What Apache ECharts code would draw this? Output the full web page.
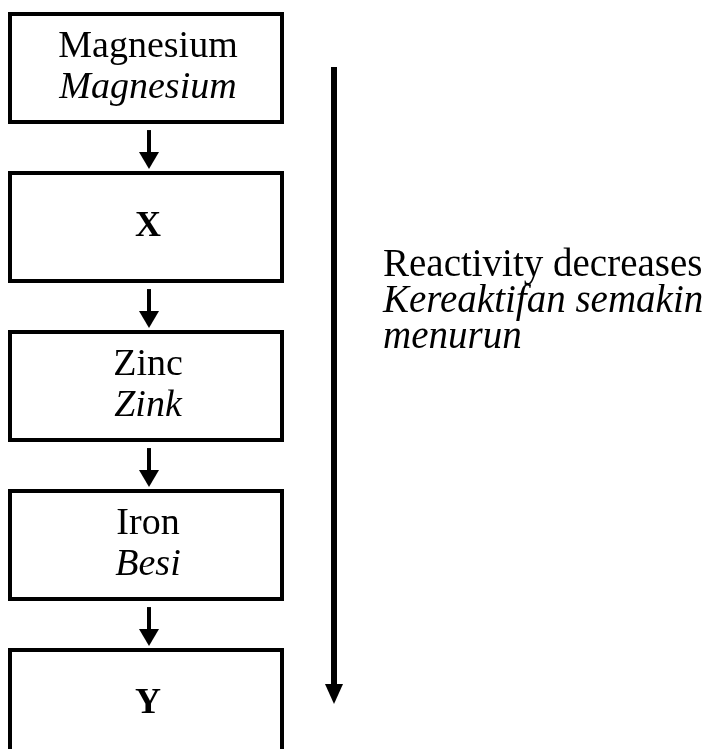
<!DOCTYPE html>
<html>
<head>
<meta charset="utf-8">
<script src="https://cdn.jsdelivr.net/npm/echarts@6/dist/echarts.min.js"></script>
<style>
  html, body { margin: 0; padding: 0; background: #fff; }
  #chart { width: 704px; height: 749px; }
</style>
</head>
<body>
<div id="chart"></div>
<script>
// reactivity series, most reactive at the top
const metals = ['Magnesium', 'X', 'Zinc', 'Iron', 'Y'];
const metalsMalay = ['Magnesium', '', 'Zink', 'Besi', ''];
const unknownMetals = ['X', 'Y'];
const trendText = ['Reactivity decreases', 'Kereaktifan semakin', 'menurun'];

const FONT = '"Liberation Serif", "Times New Roman", serif';
const BOX_RATIO = 0.68;

let chartDom = document.getElementById('chart');
let chart = echarts.init(chartDom, null, { renderer: 'canvas' });

function arrowDown(cx, y0, y1, shaft, headW, headH) {
    return [
        {
            type: 'rect',
            shape: { x: cx - shaft / 2, y: y0, width: shaft, height: y1 - y0 - headH + 1 },
            style: { fill: '#000' }
        },
        {
            type: 'polygon',
            shape: { points: [[cx - headW / 2, y1 - headH], [cx + headW / 2, y1 - headH], [cx, y1]] },
            style: { fill: '#000' }
        }
    ];
}

function renderStep(params, api) {
    const i = api.value(0);
    const [x0, yc] = api.coord([0, i]);
    const x1 = api.coord([1, i])[0];
    const band = api.size([0, 1])[1];
    const h = band * BOX_RATIO;
    const top = yc - h / 2;
    const name = metals[i];
    const text = unknownMetals.includes(name)
        ? `{b|${name}}`
        : `{n|${name}}\n{i|${metalsMalay[i]}}`;

    let children = [
        {
            type: 'rect',
            shape: { x: x0, y: top, width: x1 - x0, height: h },
            style: { fill: '#fff', stroke: '#000', lineWidth: 4 }
        },
        {
            type: 'text',
            style: {
                x: (x0 + x1) / 2 + 2,
                y: yc,
                text: text,
                align: 'center',
                verticalAlign: 'middle',
                rich: {
                    n: { fontSize: 38, fontFamily: FONT, lineHeight: 41, fill: '#000' },
                    i: { fontSize: 38, fontFamily: FONT, fontStyle: 'italic', lineHeight: 41, fill: '#000' },
                    b: { fontSize: 36, fontFamily: FONT, fontWeight: 'bold', fill: '#000' }
                }
            }
        }
    ];

    if (i < metals.length - 1) {
        const nextTop = api.coord([0, i + 1])[1] - h / 2;
        children = children.concat(arrowDown((x0 + x1) / 2 + 3, top + h + 8, nextTop - 4, 4, 20, 17));
    }
    return { type: 'group', children: children };
}

function renderTrend(params, api) {
    const yTop = api.coord([0, api.value(0)])[1];
    const yEnd = api.coord([0, api.value(1)])[1];
    const x = api.coord([1, 0])[0] + 52;
    const yText = api.coord([0, 1.5])[1] - 5;
    return {
        type: 'group',
        children: arrowDown(x, yTop - 1, yEnd, 6, 18, 20).concat([
            {
                type: 'text',
                style: {
                    x: x + 49,
                    y: yText,
                    text: `{n|${trendText[0]}}\n{i|${trendText[1]}}\n{i|${trendText[2]}}`,
                    align: 'left',
                    verticalAlign: 'middle',
                    rich: {
                        n: { fontSize: 39, fontFamily: FONT, lineHeight: 36, fill: '#000' },
                        i: { fontSize: 39, fontFamily: FONT, fontStyle: 'italic', lineHeight: 36, fill: '#000' }
                    }
                }
            }
        ])
    };
}

let option = {
    backgroundColor: '#fff',
    animation: false,
    grid: { left: 10, right: 422, top: 68, bottom: 45 },
    xAxis: { type: 'value', min: 0, max: 1, show: false },
    yAxis: { type: 'value', min: 0, max: metals.length - 1, inverse: true, show: false },
    series: [
        {
            type: 'custom',
            name: 'steps',
            clip: false,
            renderItem: renderStep,
            data: metals.map((m, i) => [i])
        },
        {
            type: 'custom',
            name: 'trend',
            clip: false,
            renderItem: renderTrend,
            data: [[0, metals.length - 1]]
        }
    ]
};

chart.setOption(option);

window.addEventListener('resize', () => {
    chart.resize();
});
</script>
</body>
</html>
